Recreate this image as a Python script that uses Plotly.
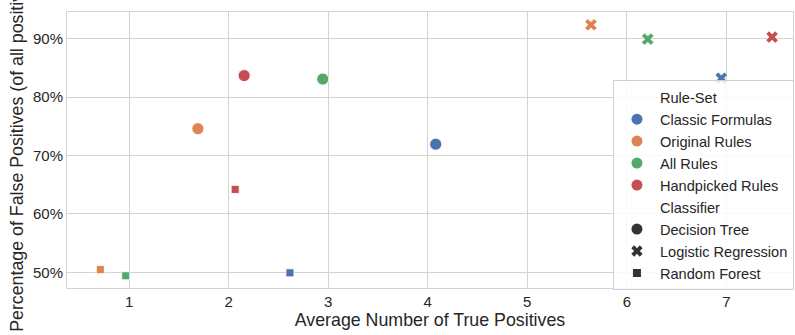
import plotly.graph_objects as go

rule_sets = ["Classic Formulas", "Original Rules", "All Rules", "Handpicked Rules"]
rule_colors = ["#4C72B0", "#DD8452", "#55A868", "#C44E52"]
classifiers = ["Decision Tree", "Logistic Regression", "Random Forest"]
classifier_symbols = ["circle", "x", "square"]
classifier_sizes = [12, 11, 8]

# x: average number of true positives, y: % false positives; order follows rule_sets
dt_x = [4.08, 1.69, 2.945, 2.155]
dt_y = [71.95, 74.6, 83.1, 83.7]
lr_x = [6.95, 5.64, 6.21, 7.46]
lr_y = [83.25, 92.4, 89.95, 90.3]
rf_x = [2.615, 0.71, 0.965, 2.065]
rf_y = [49.9, 50.45, 49.4, 64.2]

series_x = [dt_x, lr_x, rf_x]
series_y = [dt_y, lr_y, rf_y]

x_ticks = [1, 2, 3, 4, 5, 6, 7]
y_ticks = [50, 60, 70, 80, 90]
y_tick_labels = ["50%", "60%", "70%", "80%", "90%"]

FONT = "Arial, Liberation Sans, sans-serif"
TXT = "#262626"

fig = go.Figure()

for ci, clf in enumerate(classifiers):
    for ri, rs in enumerate(rule_sets):
        fig.add_trace(go.Scatter(
            x=[series_x[ci][ri]], y=[series_y[ci][ri]], mode="markers",
            marker=dict(symbol=classifier_symbols[ci], size=classifier_sizes[ci],
                        color=rule_colors[ri], line=dict(color="white", width=0.8)),
            showlegend=False, hoverinfo="x+y", name=f"{rs} / {clf}"))

# legend entries (seaborn style with sub-headings)
def legend_entry(name, symbol, color, size):
    fig.add_trace(go.Scatter(x=[None], y=[None], mode="markers", name=name,
                             marker=dict(symbol=symbol, color=color, size=size,
                                         line=dict(width=0))))

legend_entry("Rule-Set", "circle", "rgba(0,0,0,0)", 11)
for ri, rs in enumerate(rule_sets):
    legend_entry(rs, "circle", rule_colors[ri], 11)
legend_entry("Classifier", "circle", "rgba(0,0,0,0)", 11)
for ci, clf in enumerate(classifiers):
    legend_entry(clf, classifier_symbols[ci], "#333333", [11, 10, 8][ci])

grid = "#d3d3d3"
fig.update_layout(
    template="none",
    width=795, height=335,
    margin=dict(l=67, r=2, t=12, b=47, pad=0, autoexpand=False),
    paper_bgcolor="white", plot_bgcolor="white",
    font=dict(family=FONT, color=TXT, size=15),
    hovermode="closest",
    legend=dict(x=0.752, y=0.753, xanchor="left", yanchor="top",
                bgcolor="rgba(255,255,255,0.85)", bordercolor="#d0d0d0", borderwidth=1,
                font=dict(size=14.6, color=TXT), tracegroupgap=0, itemsizing="trace",
                itemwidth=36),
    xaxis=dict(range=[0.375, 7.67], tickvals=x_ticks, showgrid=True, gridcolor=grid,
               gridwidth=1, showline=True, linecolor=grid, linewidth=1, mirror=True,
               zeroline=False, ticks="", ticklen=0, automargin=False,
               tickfont=dict(size=15, color=TXT),
               title=dict(text="Average Number of True Positives",
                          font=dict(size=17.8, color=TXT), standoff=2)),
    yaxis=dict(range=[47.3, 94.6], tickvals=y_ticks, ticktext=y_tick_labels,
               showgrid=True, gridcolor=grid, gridwidth=1, showline=True,
               linecolor=grid, linewidth=1, mirror=True, zeroline=False, ticks="",
               ticklen=0, automargin=False,
               tickfont=dict(size=15, color=TXT),
               title=dict(text="Percentage of False Positives (of all positives)",
                          font=dict(size=17.8, color=TXT), standoff=4)),
)

fig.write_html("out.html", config={"displayModeBar": False},
               post_script="document.body.style.margin='0';document.body.style.padding='0';"
                           "document.body.style.overflow='hidden';")
